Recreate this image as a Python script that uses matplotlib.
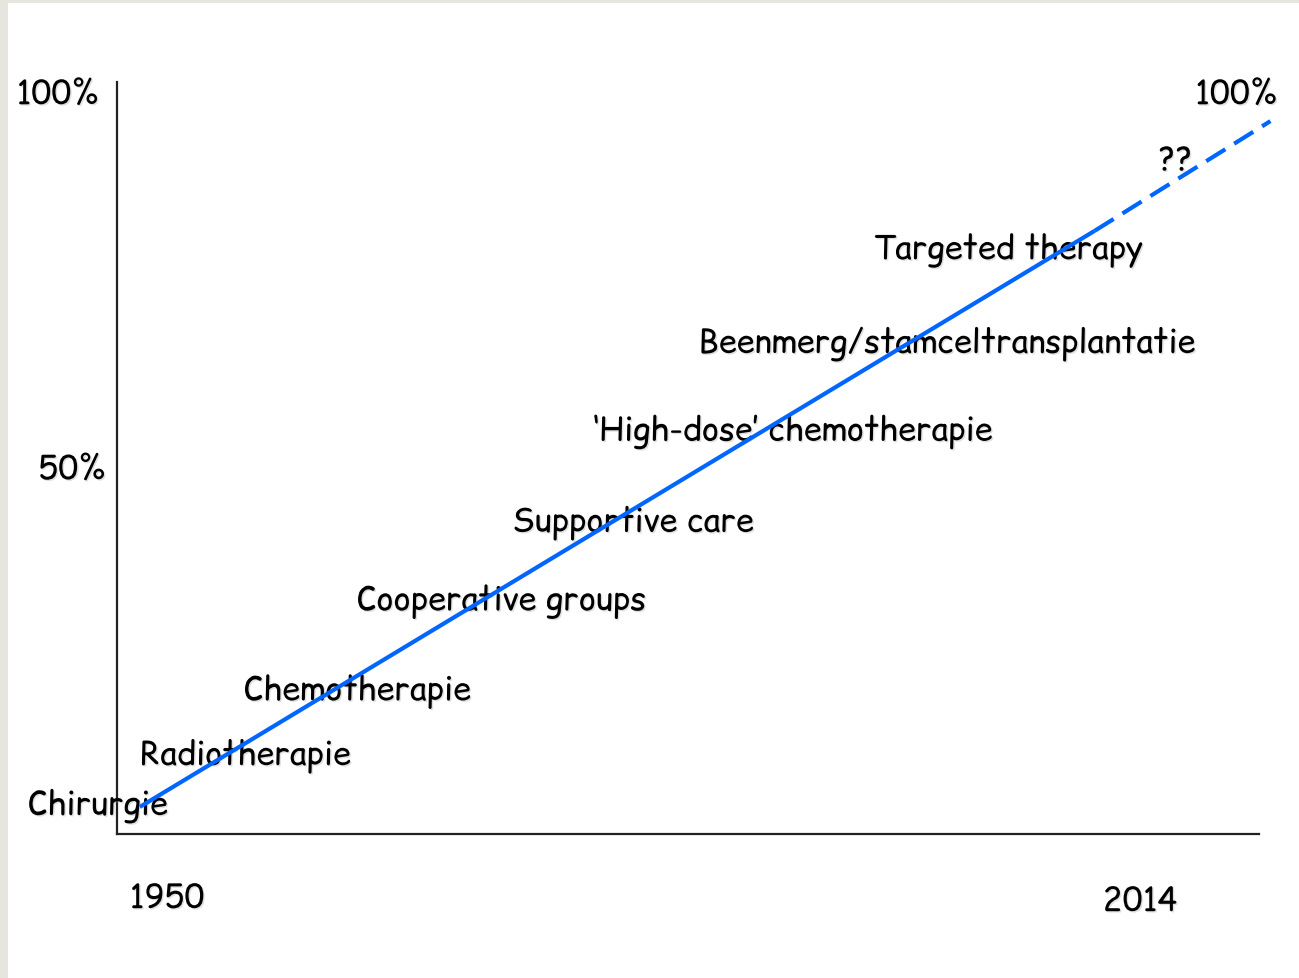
import matplotlib
matplotlib.use("Agg")
import matplotlib.pyplot as plt
import matplotlib.patheffects as pe
from matplotlib.patches import Rectangle

# progress curve (abstract 0..100 scale on both axes)
solid_x = [2.0, 85.6]
solid_y = [3.6, 80.2]
dashed_x = [85.6, 101.0]
dashed_y = [80.2, 94.8]

milestones = [
    "Chirurgie",
    "Radiotherapie",
    "Chemotherapie",
    "Cooperative groups",
    "Supportive care",
    "\u2018High-dose\u2019 chemotherapie",
    "Beenmerg/stamceltransplantatie",
    "Targeted therapy",
    "??",
]
milestone_pos = [
    (-7.8, 3.6), (2.0, 10.3), (11.1, 18.9), (21.0, 30.8), (34.6, 41.3),
    (41.7, 53.4), (50.9, 65.1), (66.2, 77.5), (91.2, 89.4),
]
year_labels = ["1950", "2014"]
pct_labels = ["100%", "50%", "100%"]

FONT = ["Comic Relief", "Comic Neue", "Open Sans", "DejaVu Sans"]
BLUE = "#0066ff"
shadow = [pe.withSimplePatchShadow(offset=(1.0, -1.0), shadow_rgbFace="#999999",
                                   alpha=0.3)]

fig = plt.figure(figsize=(12.99, 9.79), dpi=100)
fig.patch.set_facecolor("#e6e6df")
fig.patches.append(Rectangle((8 / 1299, 0), 1, (979 - 4) / 979,
                             transform=fig.transFigure, facecolor="white",
                             edgecolor="none", zorder=-10))

ax = fig.add_axes([117 / 1299, 144 / 979, 1142 / 1299, 752 / 979])
ax.set_zorder(1)
ax.set_facecolor("none")
ax.set_xlim(0, 100)
ax.set_ylim(0, 100)
for side in ("top", "right"):
    ax.spines[side].set_visible(False)
for side in ("left", "bottom"):
    ax.spines[side].set_color("#222222")
    ax.spines[side].set_linewidth(1.6)
ax.set_xticks([])
ax.set_yticks([])

ax.plot(solid_x, solid_y, color=BLUE, lw=3.0, solid_capstyle="butt",
        clip_on=False, zorder=5)
ax.plot(dashed_x, dashed_y, color=BLUE, lw=3.0, linestyle=(0, (5.4, 2.5)),
        dash_capstyle="butt", clip_on=False, zorder=5)


def fit_size(s, target_px, base=20):
    # scale font size so the rendered label is as wide as in the slide
    t = fig.text(0, 0, s, fontsize=base, family=FONT)
    w = t.get_window_extent(renderer=fig.canvas.get_renderer()).width
    t.remove()
    return base * target_px / w


fs = fit_size("Beenmerg/stamceltransplantatie", 498)
fs_num = fit_size("100%", 82)

for label, (x, y) in zip(milestones, milestone_pos):
    ax.text(x, y, label, ha="left", va="center", fontsize=fs, family=FONT,
            color="black", clip_on=False, zorder=4, path_effects=shadow)

for label, (x, y) in zip(pct_labels, [(-8.8, 98.2), (-6.9, 48.3), (94.4, 98.2)]):
    ax.text(x, y, label, ha="left", va="center", fontsize=fs_num, family=FONT,
            color="black", clip_on=False, path_effects=shadow)

for label, (x, y) in zip(year_labels, [(1.1, -8.7), (86.3, -9.1)]):
    ax.text(x, y, label, ha="left", va="center", fontsize=fs_num, family=FONT,
            color="black", clip_on=False, path_effects=shadow)

fig.savefig("out.png", dpi=100, facecolor=fig.get_facecolor())
